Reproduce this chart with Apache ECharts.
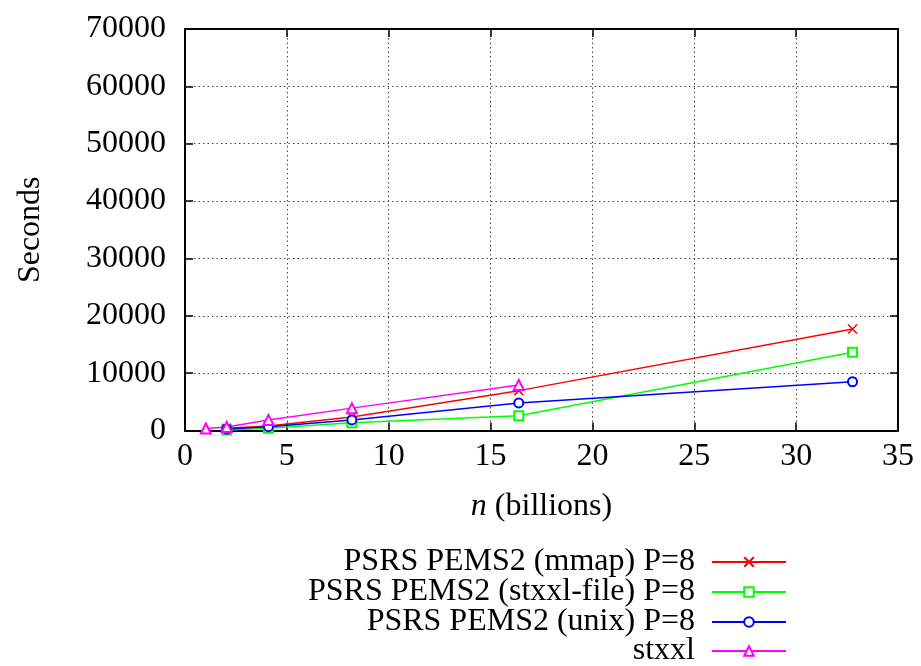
<!DOCTYPE html>
<html>
<head>
<meta charset="utf-8">
<script src="https://cdn.jsdelivr.net/npm/echarts@6/dist/echarts.min.js"></script>
<style>html,body{margin:0;padding:0;background:#fff}#c{width:921px;height:666px}</style>
</head>
<body>
<div id="c"></div>
<script>
// Data (n in billions, seconds)
const nValues = [1.024, 2.048, 4.096, 8.192, 16.384, 32.768];
const mmap = [null, 380, 780, 2350, 6950, 17700];
const stxxlFile = [null, 100, 380, 1330, 2580, 13630];
const unix = [null, 260, 660, 1850, 4800, 8500];
const stxxl = [350, 600, 1850, 3900, 7950, null];
const seriesNames = ['PSRS PEMS2 (mmap) P=8', 'PSRS PEMS2 (stxxl-file) P=8', 'PSRS PEMS2 (unix) P=8', 'stxxl'];
const xTicks = [0, 5, 10, 15, 20, 25, 30, 35];
const yTicks = [0, 10000, 20000, 30000, 40000, 50000, 60000, 70000];

const FONT = '"Liberation Serif", "DejaVu Serif", serif';
const colors = ['#ff0000', '#00ff00', '#0000ff', '#ff00ff'];
const symbols = ['path://M0,0L10,10M10,0L0,10', 'emptyRect', 'emptyCircle', 'emptyTriangle'];
const symbolSizes = [9, 9, 9, 10];
const seriesData = [mmap, stxxlFile, unix, stxxl];

function pairs(vals) {
  const out = [];
  for (let i = 0; i < nValues.length; i++) if (vals[i] != null) out.push([nValues[i], vals[i]]);
  return out;
}

const series = seriesData.map((vals, i) => ({
  name: seriesNames[i],
  type: 'line',
  data: pairs(vals),
  symbol: symbols[i],
  symbolSize: symbolSizes[i],
  showAllSymbol: true,
  lineStyle: { color: colors[i], width: 1.5 },
  itemStyle: { color: i === 0 ? 'none' : colors[i], borderColor: colors[i], borderWidth: 1.5 },
  emphasis: { disabled: true },
  animation: false,
  z: 3
}));

const legendCenters = [562, 592, 622, 651];
const legends = seriesNames.map((nm, i) => ({
  data: [nm],
  orient: 'vertical',
  right: 129,
  top: legendCenters[i] - 21,
  align: 'right',
  itemWidth: 74,
  itemHeight: 12,
  selectedMode: false,
  textStyle: { fontFamily: FONT, fontSize: 32, color: '#000', lineHeight: 32, padding: [0, 12, 0, 0] }
}));

const gridLine = { show: true, lineStyle: { color: '#444', type: [1.5, 3], width: 1 } };
const chart = echarts.init(document.getElementById('c'), null, { renderer: 'canvas' });
chart.setOption({
  animation: false,
  backgroundColor: '#fff',
  grid: { left: 185, right: 23, top: 29, bottom: 235.5, containLabel: false },
  legend: legends,
  xAxis: [{
    type: 'value', min: 0, max: 35, interval: 5,
    axisLine: { show: true, lineStyle: { color: '#000', width: 2 } },
    axisTick: { show: true, inside: true, length: 8, lineStyle: { color: '#000', width: 1.5 } },
    axisLabel: { fontFamily: FONT, fontSize: 32, color: '#000', margin: 10,
      formatter: v => xTicks.includes(v) ? String(v) : '' },
    splitLine: gridLine,
    name: '{i|n} (billions)', nameLocation: 'middle', nameGap: 60,
    nameTextStyle: { fontFamily: FONT, fontSize: 32, color: '#000',
      rich: { i: { fontFamily: FONT, fontSize: 32, fontStyle: 'italic', color: '#000' } } }
  }, {
    type: 'value', min: 0, max: 35, interval: 5, position: 'top',
    axisLine: { show: true, onZero: false, lineStyle: { color: '#000', width: 2 } },
    axisTick: { show: true, inside: true, length: 8, lineStyle: { color: '#000', width: 1.5 } },
    axisLabel: { show: false }, splitLine: { show: false }
  }],
  yAxis: [{
    type: 'value', min: 0, max: 70000, interval: 10000,
    axisLine: { show: true, lineStyle: { color: '#000', width: 2 } },
    axisTick: { show: true, inside: true, length: 8, lineStyle: { color: '#000', width: 1.5 } },
    axisLabel: { fontFamily: FONT, fontSize: 32, color: '#000', margin: 19,
      formatter: v => yTicks.includes(v) ? String(v) : '' },
    splitLine: gridLine,
    name: 'Seconds', nameLocation: 'middle', nameGap: 138, nameRotate: 90,
    nameTextStyle: { fontFamily: FONT, fontSize: 32, color: '#000' }
  }, {
    type: 'value', min: 0, max: 70000, interval: 10000, position: 'right',
    axisLine: { show: true, onZero: false, lineStyle: { color: '#000', width: 2 } },
    axisTick: { show: true, inside: true, length: 8, lineStyle: { color: '#000', width: 1.5 } },
    axisLabel: { show: false }, splitLine: { show: false }
  }],
  series: series
});
</script>
</body>
</html>
